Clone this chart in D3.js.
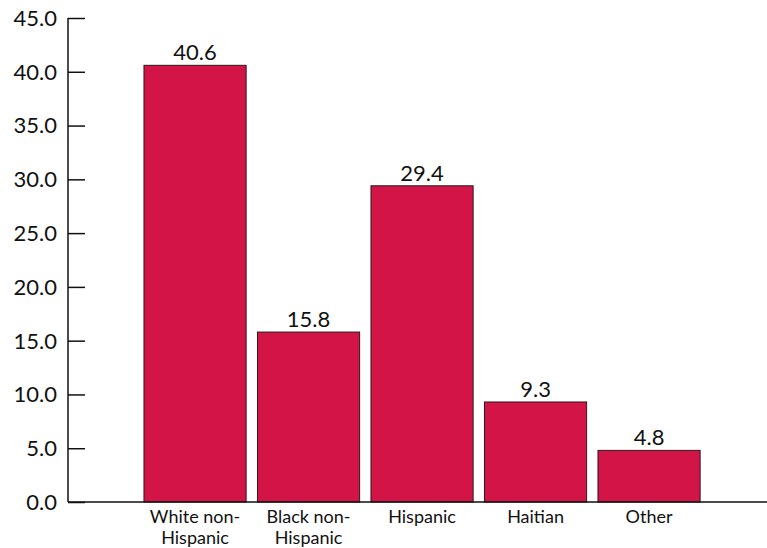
<!DOCTYPE html>
<html>
<head>
<meta charset="utf-8">
<script src="https://cdn.jsdelivr.net/npm/d3@7"></script>
<style>
  body { margin: 0; background: #fff; }
  svg { display: block; }
</style>
</head>
<body>
<div id="chart"></div>
<script>
// Data
const categories = [['White non-', 'Hispanic'], ['Black non-', 'Hispanic'], ['Hispanic'], ['Haitian'], ['Other']];
const values = [40.6, 15.8, 29.4, 9.3, 4.8];
const yTicks = [0, 5, 10, 15, 20, 25, 30, 35, 40, 45];

const width = 767, height = 548;
const font = 'Lato, "Open Sans", sans-serif';
const barColor = '#d21446';

const svg = d3.select('#chart').append('svg')
    .attr('width', width)
    .attr('height', height);

// Scales
const x = d3.scaleBand()
    .domain(d3.range(categories.length))
    .range([138.3, 705.8])
    .paddingInner(0.1)
    .paddingOuter(0.05);

const y = d3.scaleLinear().domain([0, 45]).range([502, 18]);
const axisX = 68;

// Bars
svg.selectAll('.bar')
    .data(values)
    .join('rect')
    .attr('class', 'bar')
    .attr('x', (d, i) => x(i))
    .attr('y', d => y(d))
    .attr('width', x.bandwidth())
    .attr('height', d => y(0) - y(d))
    .attr('fill', barColor)
    .attr('stroke', '#2a1a1e')
    .attr('stroke-width', 1);

// Value labels
svg.selectAll('.val')
    .data(values)
    .join('text')
    .attr('class', 'val')
    .attr('x', (d, i) => x(i) + x.bandwidth() / 2)
    .attr('y', d => y(d) - 5)
    .attr('text-anchor', 'middle')
    .attr('font-family', font)
    .attr('font-size', '22px')
    .attr('fill', '#111')
    .text(d => d.toFixed(1));

// Y axis
const yAxis = d3.axisRight(y)
    .tickValues(yTicks)
    .tickSize(17)
    .tickFormat(() => '');

svg.append('g')
    .attr('transform', `translate(${axisX},0)`)
    .call(yAxis)
    .call(ax => {
        ax.select('.domain').remove();
        ax.selectAll('line').attr('stroke', '#111').attr('stroke-width', 1.5);
    });

svg.append('line')
    .attr('x1', axisX).attr('x2', axisX)
    .attr('y1', y(45)).attr('y2', y(0))
    .attr('stroke', '#111').attr('stroke-width', 1.5);

// Tick labels
svg.selectAll('.ytick-label')
    .data(yTicks)
    .join('text')
    .attr('class', 'ytick-label')
    .attr('x', 57)
    .attr('y', d => y(d))
    .attr('dy', '0.36em')
    .attr('text-anchor', 'end')
    .attr('font-family', font)
    .attr('font-size', '22px')
    .attr('fill', '#111')
    .text(d => d.toFixed(1));

// X axis line
svg.append('line')
    .attr('x1', axisX).attr('x2', width)
    .attr('y1', y(0)).attr('y2', y(0))
    .attr('stroke', '#111').attr('stroke-width', 1.5);

// Category labels
const catG = svg.selectAll('.cat')
    .data(categories)
    .join('text')
    .attr('class', 'cat')
    .attr('x', (d, i) => x(i) + x.bandwidth() / 2)
    .attr('y', 523)
    .attr('text-anchor', 'middle')
    .attr('font-family', font)
    .attr('font-size', '18px')
    .attr('fill', '#111');

catG.selectAll('tspan')
    .data(d => d)
    .join('tspan')
    .attr('x', function () { return d3.select(this.parentNode).attr('x'); })
    .attr('dy', (d, i) => i === 0 ? 0 : 21)
    .text(d => d);
</script>
</body>
</html>
